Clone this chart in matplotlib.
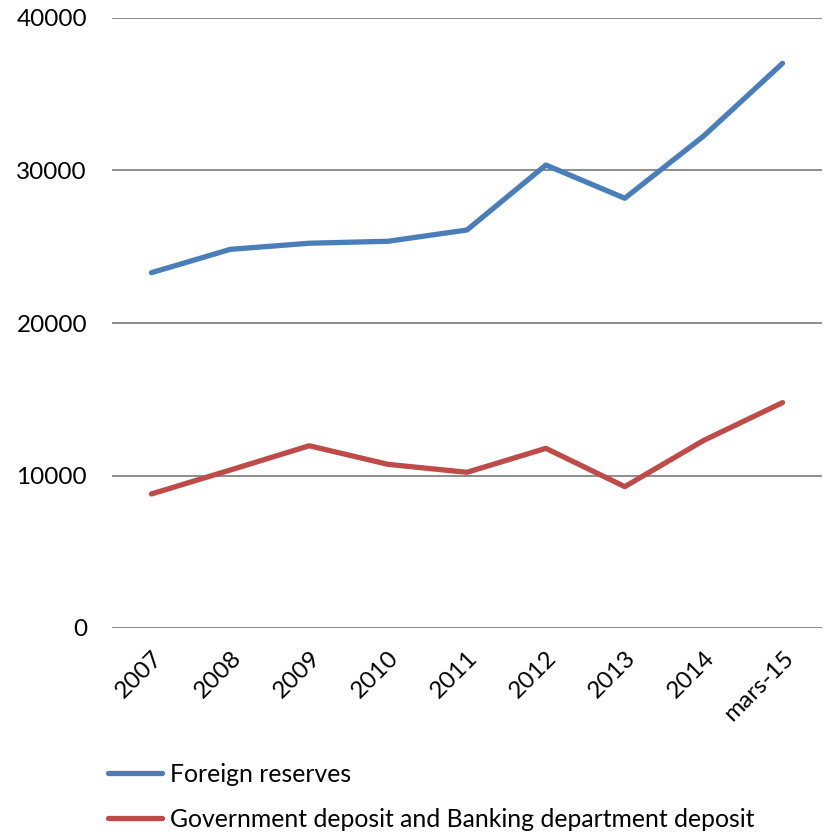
import matplotlib.pyplot as plt
from matplotlib.lines import Line2D

plt.rcParams['font.family'] = ['Lato', 'DejaVu Sans']

categories = ["2007", "2008", "2009", "2010", "2011", "2012", "2013", "2014", "mars-15"]
foreign_reserves = [23300, 24830, 25230, 25360, 26100, 30360, 28180, 32260, 37030]
gov_bank_deposit = [8790, 10360, 11950, 10730, 10210, 11780, 9270, 12300, 14780]
series_names = ["Foreign reserves", "Government deposit and Banking department deposit"]
colors = ["#4a7ebb", "#be4b48"]

fig = plt.figure(figsize=(8.25, 8.35), dpi=100)
ax = fig.add_axes([112 / 825, 1 - 628 / 835, (822 - 112) / 825, (628 - 18) / 835])

x = list(range(len(categories)))
for vals, col in zip([foreign_reserves, gov_bank_deposit], colors):
    ax.plot(x, vals, color=col, lw=3.8, solid_capstyle='round', solid_joinstyle='round', zorder=3)

ax.set_xlim(-0.5, len(categories) - 0.5)
ax.set_ylim(0, 40000)
ax.set_yticks([0, 10000, 20000, 30000, 40000])
ax.yaxis.grid(True, color='#8c8c8c', lw=1.4)
ax.set_axisbelow(True)
for s in ['top', 'right', 'left', 'bottom']:
    ax.spines[s].set_visible(False)
ax.tick_params(axis='both', length=0, labelsize=17.5)
ax.tick_params(axis='y', pad=18)
ax.set_xticks(x)
ax.set_xticklabels(categories, rotation=45, ha='right', va='top', rotation_mode='anchor')
ax.tick_params(axis='x', pad=14)

handles = [Line2D([], [], color=c, lw=3.8, solid_capstyle='round') for c in colors]
fig.legend(handles, series_names, loc='upper left', bbox_to_anchor=(98 / 825, 1 - 753 / 835),
           frameon=False, fontsize=17.8, handlelength=2.2, handletextpad=0.3, labelspacing=0.9,
           borderaxespad=0)

fig.savefig("out.png", dpi=100)
